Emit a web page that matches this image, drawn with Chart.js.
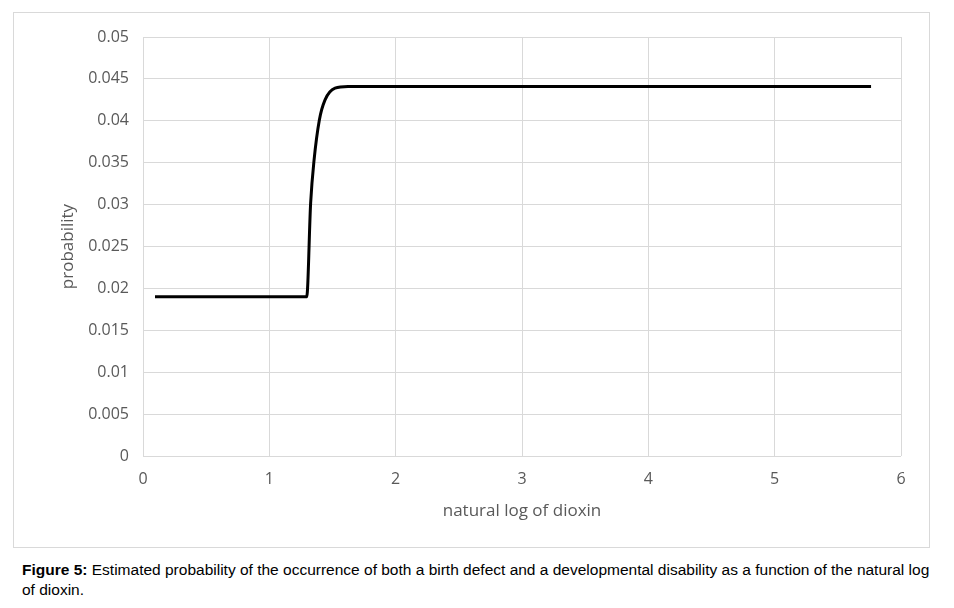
<!DOCTYPE html>
<html><head><meta charset="utf-8">
<script src="https://cdn.jsdelivr.net/npm/chart.js@4"></script>
<style>
body{margin:0;background:#fff;width:954px;height:608px;position:relative;font-family:"Liberation Sans",Arial,sans-serif}
#box{position:absolute;left:13px;top:12px;width:915px;height:534px;border:1px solid #d9d9d9}
#cap{position:absolute;left:22px;top:560px;width:915px;font-size:15.5px;line-height:20px;color:#000}
</style></head><body>
<div id="box"><canvas id="c" width="915" height="534"></canvas></div>
<div id="cap"><b>Figure 5:</b> Estimated probability of the occurrence of both a birth defect and a developmental disability as a function of the natural log of dioxin.</div>
<script>
const xVals=[0.095,1.296,1.327,1.354,1.396,1.441,1.52,1.623,5.763];
const yVals=[0.019,0.019,0.0302,0.0353,0.0401,0.0425,0.0439,0.0441,0.0441];
const xTicks=[0,1,2,3,4,5,6];
const yTicks=[0,0.005,0.01,0.015,0.02,0.025,0.03,0.035,0.04,0.045,0.05];
Chart.defaults.font.family='"Open Sans",sans-serif';
Chart.defaults.color='#595959';
new Chart(document.getElementById('c'),{type:'scatter',
data:{datasets:[{data:xVals.map((x,i)=>({x,y:yVals[i]})),showLine:true,borderColor:'#000',borderWidth:3,pointRadius:0,tension:0.3,cubicInterpolationMode:'monotone'}]},
options:{responsive:false,animation:false,plugins:{legend:{display:false},tooltip:{enabled:false}},
layout:{padding:{top:24,right:28,left:40,bottom:22}},
scales:{
x:{type:'linear',min:0,max:6,afterBuildTicks:a=>{a.ticks=xTicks.map(v=>({value:v}));},
afterFit:a=>{a.height=69},
grid:{color:'#d9d9d9',drawTicks:false},border:{display:false},
ticks:{font:{size:16},padding:14},
title:{display:true,text:'natural log of dioxin',font:{size:17},padding:{top:6}}},
y:{min:0,max:0.05,afterBuildTicks:a=>{a.ticks=yTicks.map(v=>({value:v}));},
afterFit:a=>{a.width=89},
grid:{color:'#d9d9d9',drawTicks:false},border:{display:false},
ticks:{font:{size:16},padding:14,callback:v=>String(+v.toFixed(3))},
title:{display:true,text:'probability',font:{size:17},padding:{bottom:4}}}
}}});
</script></body></html>
